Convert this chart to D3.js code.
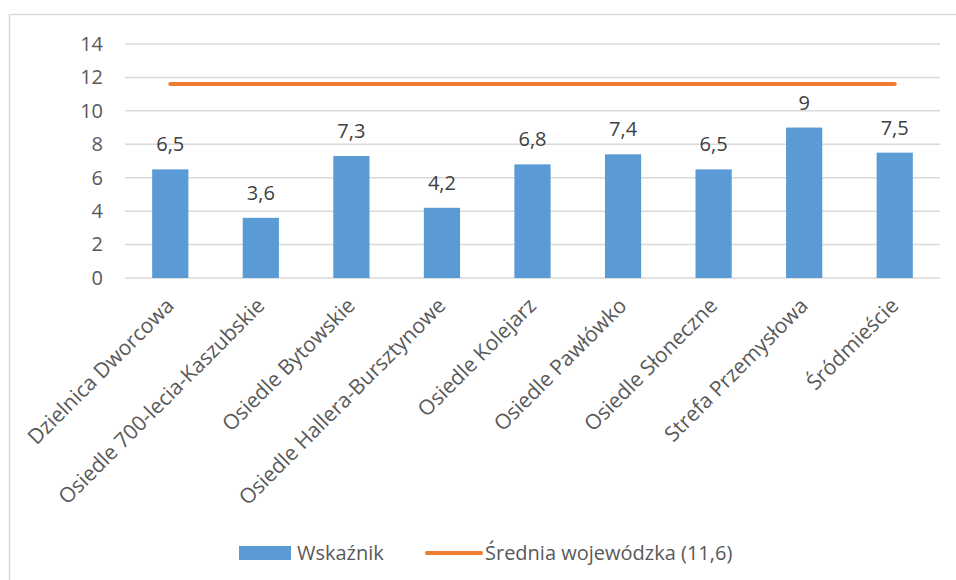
<!DOCTYPE html>
<html>
<head>
<meta charset="utf-8">
<script src="https://cdn.jsdelivr.net/npm/d3@7"></script>
<style>
  body { margin: 0; background: #fff; }
  text { font-family: "Open Sans", sans-serif; }
</style>
</head>
<body>
<div id="chart"></div>
<script>
var categories = ["Dzielnica Dworcowa", "Osiedle 700-lecia-Kaszubskie", "Osiedle Bytowskie",
  "Osiedle Hallera-Bursztynowe", "Osiedle Kolejarz", "Osiedle Pawłówko",
  "Osiedle Słoneczne", "Strefa Przemysłowa", "Śródmieście"];
var values = [6.5, 3.6, 7.3, 4.2, 6.8, 7.4, 6.5, 9, 7.5];
var average = 11.6;
var yTicks = [0, 2, 4, 6, 8, 10, 12, 14];
var seriesNames = ["Wskaźnik", "Średnia wojewódzka (11,6)"];

var width = 956, height = 580;
var plotLeft = 125, plotRight = 940, plotTop = 44, plotBottom = 278;

var svg = d3.select("#chart").append("svg")
  .attr("width", width)
  .attr("height", height);

// chart border
svg.append("rect")
  .attr("x", 9.5).attr("y", 14.5)
  .attr("width", 960).attr("height", 600)
  .attr("fill", "none")
  .attr("stroke", "#d9d9d9")
  .attr("stroke-width", 1.5);

var x = d3.scaleBand(categories, [plotLeft, plotRight])
  .paddingInner(0.6)
  .paddingOuter(0.3);

var y = d3.scaleLinear([0, 14], [plotBottom, plotTop]);

// gridlines
svg.append("g")
  .selectAll("line")
  .data(yTicks)
  .join("line")
  .attr("x1", plotLeft).attr("x2", plotRight)
  .attr("y1", d => y(d)).attr("y2", d => y(d))
  .attr("stroke", "#d9d9d9")
  .attr("stroke-width", 1.5);

// y axis labels
var yAxis = d3.axisLeft(y).tickValues(yTicks).tickSize(0).tickPadding(0);
svg.append("g")
  .attr("transform", "translate(103,0)")
  .call(yAxis)
  .call(g => g.select(".domain").remove())
  .selectAll("text")
  .attr("fill", "#595959")
  .style("font-size", "20px")
  .style("font-family", "Open Sans, sans-serif");

// bars
svg.append("g")
  .selectAll("rect")
  .data(values)
  .join("rect")
  .attr("x", (d, i) => x(categories[i]))
  .attr("y", d => y(d))
  .attr("width", x.bandwidth())
  .attr("height", d => y(0) - y(d))
  .attr("fill", "#5b9bd5");

// value labels
svg.append("g")
  .selectAll("text")
  .data(values)
  .join("text")
  .attr("x", (d, i) => x(categories[i]) + x.bandwidth() / 2)
  .attr("y", d => y(d) - 18)
  .attr("text-anchor", "middle")
  .attr("fill", "#404040")
  .style("font-size", "20px")
  .text(d => String(d).replace(".", ","));

// average line
svg.append("line")
  .attr("x1", x(categories[0]) + x.bandwidth() / 2)
  .attr("x2", x(categories[categories.length - 1]) + x.bandwidth() / 2)
  .attr("y1", y(average)).attr("y2", y(average))
  .attr("stroke", "#ed7d31")
  .attr("stroke-width", 4)
  .attr("stroke-linecap", "round");

// x labels
svg.append("g")
  .selectAll("text")
  .data(categories)
  .join("text")
  .attr("transform", d => "translate(" + (x(d) + x.bandwidth() / 2 + 5) + ",307) rotate(-45)")
  .attr("text-anchor", "end")
  .attr("fill", "#595959")
  .style("font-size", "21px")
  .text(d => d);

// legend
var legend = svg.append("g");
legend.append("rect")
  .attr("x", 239).attr("y", 546)
  .attr("width", 52).attr("height", 14)
  .attr("fill", "#5b9bd5");
legend.append("text")
  .attr("x", 297).attr("y", 560)
  .attr("fill", "#595959")
  .style("font-size", "20px")
  .text(seriesNames[0]);
legend.append("line")
  .attr("x1", 427).attr("x2", 481)
  .attr("y1", 553).attr("y2", 553)
  .attr("stroke", "#ed7d31")
  .attr("stroke-width", 4)
  .attr("stroke-linecap", "round");
legend.append("text")
  .attr("x", 485).attr("y", 560)
  .attr("fill", "#595959")
  .style("font-size", "20px")
  .text(seriesNames[1]);
</script>
</body>
</html>
